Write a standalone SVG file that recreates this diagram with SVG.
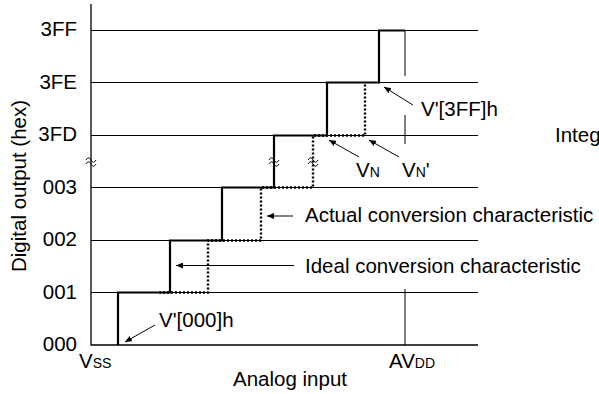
<svg xmlns="http://www.w3.org/2000/svg" width="599" height="394" viewBox="0 0 599 394">
<style>
text{font-family:"Liberation Sans",Arial,sans-serif;font-size:20.5px;fill:#000}
.ylab{text-anchor:end}
.grid{stroke:#000;stroke-width:1;fill:none}
.axis{stroke:#000;stroke-width:1.3;fill:none}
.ideal{stroke:#000;stroke-width:2.2;fill:none}
.actual{stroke:#000;stroke-width:2.4;fill:none;stroke-dasharray:2 2}
.lead{stroke:#000;stroke-width:1;fill:none;marker-end:url(#ah)}
.brk{stroke:#000;stroke-width:1;fill:none}
.sub{font-size:14px}
</style>
<defs>
<marker id="ah" markerWidth="7" markerHeight="6" refX="7" refY="3" orient="auto" markerUnits="userSpaceOnUse"><path d="M0,0 L7,3 L0,6 z" fill="#000"/></marker>
</defs>
<g id="axes">
<path class="axis" d="M91,4 V345 H478"/>
<path class="grid" d="M91,30.5 H478 M91,82.5 H478 M91,135.5 H478 M91,187.5 H478 M91,240.5 H478 M91,292.5 H478"/>
<path class="grid" d="M405,30 V76 M405,115 V144 M405,289 V345"/>
<path class="brk" d="M86,160 c2,-3 3,-3 5,0 s3,3 5,0 M86,164 c2,-3 3,-3 5,0 s3,3 5,0"/>
</g>
<g id="y-labels">
<text class="ylab" x="77" y="36">3FF</text>
<text class="ylab" x="77" y="88.5">3FE</text>
<text class="ylab" x="77" y="141">3FD</text>
<text class="ylab" x="77" y="193.5">003</text>
<text class="ylab" x="77" y="246">002</text>
<text class="ylab" x="77" y="298.5">001</text>
<text class="ylab" x="77" y="350.5">000</text>
<text x="0" y="0" text-anchor="middle" transform="translate(26,186) rotate(-90)">Digital output (hex)</text>
</g>
<g id="x-labels">
<text x="79" y="368">V<tspan class="sub">SS</tspan></text>
<text x="389" y="368">AV<tspan class="sub">DD</tspan></text>
<text x="233" y="386">Analog input</text>
</g>
<g id="ideal">
<path class="ideal" d="M118,345 V292.5 H170 V240.5 H222 V187.5 H274 V135.5 H327 V82.5 H379 V30.5 H405"/>
</g>
<g id="actual">
<path class="actual" d="M159,292.5 H208 V240.5 H261 V187.5 H313 V135.5 H365 V82.5"/>
</g>
<g id="breaks">
<path class="brk" d="M269,160 c2,-3 3,-3 5,0 s3,3 5,0 M269,164 c2,-3 3,-3 5,0 s3,3 5,0"/>
<path class="brk" d="M308,160 c2,-3 3,-3 5,0 s3,3 5,0 M308,164 c2,-3 3,-3 5,0 s3,3 5,0"/>
</g>
<g id="connectors">
<path class="lead" d="M293,216 H267"/>
<path class="lead" d="M294,265.5 H176"/>
<path class="lead" d="M155,325 L125,342"/>
<path class="lead" d="M413,105 L384,87"/>
<path class="lead" d="M359,157 L329,140"/>
<path class="lead" d="M399,157 L369,140"/>
</g>
<g id="labels">
<text x="305" y="222">Actual conversion characteristic</text>
<text x="305" y="273">Ideal conversion characteristic</text>
<text x="159" y="327">V'[000]h</text>
<text x="421" y="116">V'[3FF]h</text>
<text x="356" y="177">V<tspan class="sub">N</tspan></text>
<text x="402" y="177">V<tspan class="sub">N</tspan>'</text>
<text x="555" y="142">Integ</text>
</g>
</svg>
